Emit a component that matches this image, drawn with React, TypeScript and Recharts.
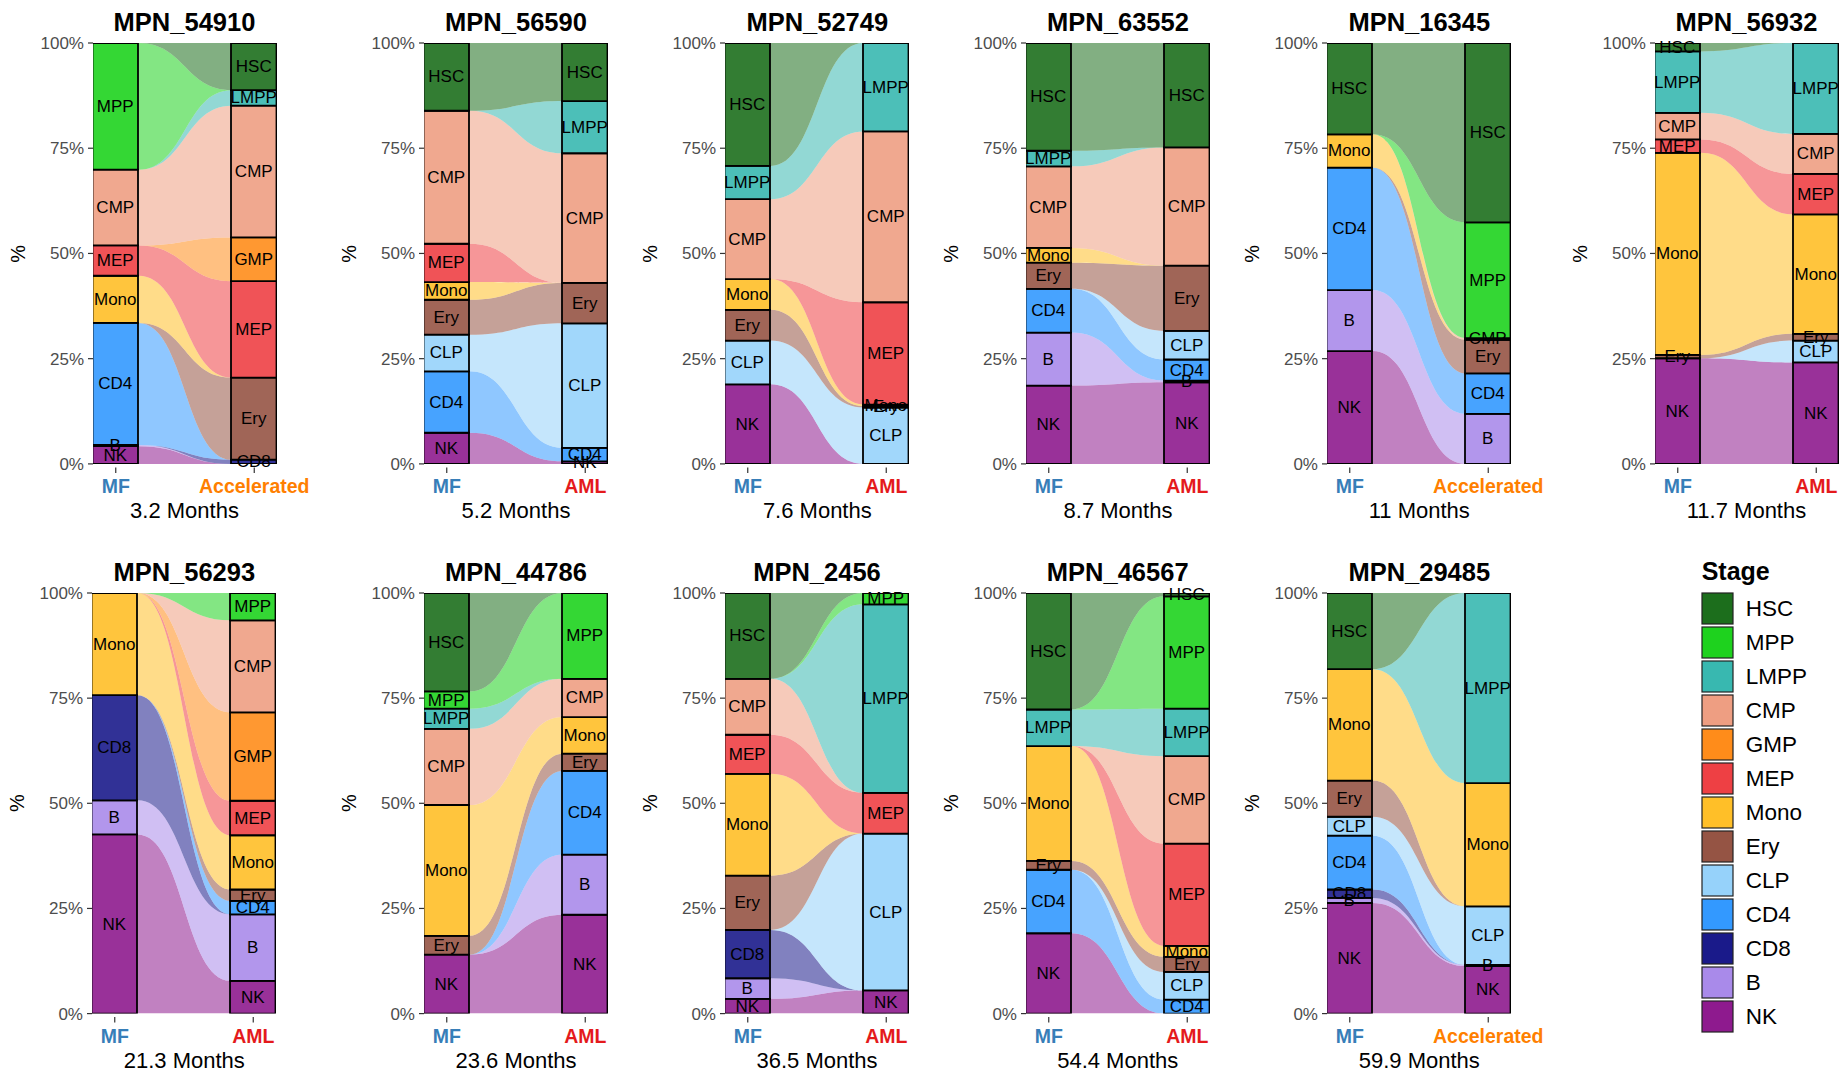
import React from "react";
import { Area, Bar, ComposedChart, LabelList, XAxis, YAxis } from "recharts";

const FONT = '"Liberation Sans", Arial, Helvetica, sans-serif';

const STAGES = ["HSC", "MPP", "LMPP", "CMP", "GMP", "MEP", "Mono", "Ery", "CLP", "CD4", "CD8", "B", "NK"];
const STAGE_COLORS = [
  "#1c6e1c", "#1ed21e", "#38b8b0", "#ee9e82", "#ff8c1a", "#ee4044", "#ffbf28",
  "#955444", "#96d2fa", "#3399ff", "#1a1a8a", "#a98aea", "#8e1a8e",
];

const TIMEPOINTS = [0, 1]; // 0 = MF sample, 1 = later sample
const Y_TICKS = [0, 25, 50, 75, 100];

// % of cells per stage, same order as STAGES
const mpn54910Mf = [0, 30.1, 0, 18.0, 0, 7.2, 11.2, 0, 0, 29.0, 0, 0.3, 4.2];
const mpn54910Late = [11.2, 0, 3.7, 31.3, 10.4, 22.9, 0, 19.5, 0, 0, 1.0, 0, 0];
const mpn56590Mf = [16.1, 0, 0, 31.6, 0, 9.1, 4.2, 8.3, 8.7, 14.6, 0, 0, 7.4];
const mpn56590Late = [13.8, 0, 12.4, 30.8, 0, 0, 0, 9.6, 29.6, 3.2, 0, 0, 0.6];
const mpn52749Mf = [29.2, 0, 7.9, 19.0, 0, 0, 7.3, 7.3, 10.4, 0, 0, 0, 18.9];
const mpn52749Late = [0, 0, 21.0, 40.6, 0, 24.3, 0.4, 0.3, 13.4, 0, 0, 0, 0];
const mpn63552Mf = [25.6, 0, 3.7, 19.4, 0, 0, 3.5, 6.2, 0, 10.4, 0, 12.6, 18.6];
const mpn63552Late = [24.8, 0, 0, 28.1, 0, 0, 0, 15.5, 6.8, 5.0, 0, 0.4, 19.4];
const mpn16345Mf = [21.7, 0, 0, 0, 0, 0, 7.9, 0, 0, 29.1, 0, 14.5, 26.8];
const mpn16345Late = [42.6, 27.5, 0, 0.4, 0, 0, 0, 8.0, 0, 9.6, 0, 11.9, 0];
const mpn56932Mf = [2.0, 0, 14.6, 6.3, 0, 3.2, 48.0, 0.8, 0, 0, 0, 0, 25.1];
const mpn56932Late = [0, 0, 21.6, 9.5, 0, 9.6, 28.4, 1.6, 5.2, 0, 0, 0, 24.1];
const mpn56293Mf = [0, 0, 0, 0, 0, 0, 24.3, 0, 0, 0, 25.0, 8.1, 42.6];
const mpn56293Late = [0, 6.5, 0, 21.9, 21.0, 8.2, 12.9, 2.7, 0, 3.2, 0, 15.8, 7.8];
const mpn44786Mf = [23.4, 4.1, 4.8, 18.1, 0, 0, 31.1, 4.5, 0, 0, 0, 0, 14.0];
const mpn44786Late = [0, 20.4, 0, 9.1, 0, 0, 8.7, 4.1, 0, 19.9, 0, 14.3, 23.5];
const mpn2456Mf = [20.4, 0, 0, 13.3, 0, 9.3, 24.2, 12.9, 0, 0, 11.5, 4.9, 3.5];
const mpn2456Late = [0, 2.7, 44.8, 0, 0, 9.7, 0, 0, 37.3, 0, 0, 0, 5.5];
const mpn46567Mf = [27.7, 0, 8.7, 0, 0, 0, 27.3, 2.1, 0, 15.1, 0, 0, 19.1];
const mpn46567Late = [0.8, 26.7, 11.3, 20.8, 0, 24.3, 2.6, 3.6, 6.6, 3.3, 0, 0, 0];
const mpn29485Mf = [18.1, 0, 0, 0, 0, 0, 26.5, 8.6, 4.5, 12.8, 2.0, 1.2, 26.3];
const mpn29485Late = [0, 0, 45.2, 0, 0, 0, 29.3, 0, 13.9, 0, 0, 0.3, 11.3];

const PANELS = [
  { title: "MPN_54910", months: "3.2 Months", late: "Accelerated", mf: mpn54910Mf, end: mpn54910Late },
  { title: "MPN_56590", months: "5.2 Months", late: "AML", mf: mpn56590Mf, end: mpn56590Late },
  { title: "MPN_52749", months: "7.6 Months", late: "AML", mf: mpn52749Mf, end: mpn52749Late },
  { title: "MPN_63552", months: "8.7 Months", late: "AML", mf: mpn63552Mf, end: mpn63552Late },
  { title: "MPN_16345", months: "11 Months", late: "Accelerated", mf: mpn16345Mf, end: mpn16345Late },
  { title: "MPN_56932", months: "11.7 Months", late: "AML", mf: mpn56932Mf, end: mpn56932Late },
  { title: "MPN_56293", months: "21.3 Months", late: "AML", mf: mpn56293Mf, end: mpn56293Late },
  { title: "MPN_44786", months: "23.6 Months", late: "AML", mf: mpn44786Mf, end: mpn44786Late },
  { title: "MPN_2456", months: "36.5 Months", late: "AML", mf: mpn2456Mf, end: mpn2456Late },
  { title: "MPN_46567", months: "54.4 Months", late: "AML", mf: mpn46567Mf, end: mpn46567Late },
  { title: "MPN_29485", months: "59.9 Months", late: "Accelerated", mf: mpn29485Mf, end: mpn29485Late },
];

// layout
const PANEL_LEFT = [92.5, 424, 725.3, 1026, 1327.3, 1654.5, 92.3, 424, 725, 1025.7, 1327.3];
const ROWS = [
  { top: 43.3, h: 420.9, title: 12.2, tick: 29, months: 53.5 },
  { top: 592.7, h: 420.6, title: 12, tick: 29.8, months: 54.5 },
];
const BAR_W = 45.5;
const BAR_GAP = 138.5;
const PLOT_W = BAR_W + BAR_GAP;
const Y_W = 60;
const M_T = 20;
const M_R = 70;
const X_H = 60;

const MF_COLOR = "#377eb8";
const AML_COLOR = "#e41a1c";
const ACC_COLOR = "#ff7f00";

function tint(hex: string, a: number) {
  const n = parseInt(hex.slice(1), 16);
  const m = (c: number) => Math.round(c * a + 255 * (1 - a));
  return `rgb(${m((n >> 16) & 255)},${m((n >> 8) & 255)},${m(n & 255)})`;
}

// alluvial ribbon: flat over the bars, then an s-curve between them
function flowCurve(context: any) {
  let pts: number[][] = [];
  let line = NaN;
  const inset = BAR_W / 2;
  return {
    areaStart() { line = 0; },
    areaEnd() { line = NaN; },
    lineStart() { pts = []; },
    lineEnd() {
      pts.forEach(([x, y], i) => {
        if (i === 0) {
          if (line) context.lineTo(x, y);
          else context.moveTo(x, y);
          return;
        }
        const [px, py] = pts[i - 1];
        const d = Math.sign(x - px) * inset;
        const xs = px + d;
        const xe = x - d;
        const xm = (xs + xe) / 2;
        context.lineTo(xs, py);
        context.bezierCurveTo(xm, py, xm, y, xe, y);
        context.lineTo(x, y);
      });
      if (line) context.closePath();
      line = 1 - line;
    },
    point(x: number, y: number) { pts.push([+x, +y]); },
  };
}

const segLabel = (name: string) => (props: any) => {
  const vb = props.viewBox && props.viewBox.height !== undefined ? props.viewBox : props;
  const { x, y, width, height } = vb;
  if (!height || Math.abs(height) < 0.05) return null;
  return (
    <text x={x + width / 2} y={y + height / 2} textAnchor="middle" dominantBaseline="central"
      fontSize={17} fontFamily={FONT} fill="#000">
      {name}
    </text>
  );
};

function makeXTick(late: string, plotBottom: number, dy: number) {
  return (props: any) => {
    const { x, payload } = props;
    const isMf = payload.value === 0;
    const color = isMf ? MF_COLOR : late === "AML" ? AML_COLOR : ACC_COLOR;
    return (
      <g>
        <line x1={x} x2={x} y1={plotBottom + 3.5} y2={plotBottom + 9} stroke="#333" strokeWidth={1.2} />
        <text x={x} y={plotBottom + dy} textAnchor="middle" fontSize={19.5} fontWeight="bold" fontFamily={FONT} fill={color}>
          {isMf ? "MF" : late}
        </text>
      </g>
    );
  };
}

function Panel({ idx }: { idx: number }) {
  const p = PANELS[idx];
  const row = ROWS[idx < 6 ? 0 : 1];
  const left = PANEL_LEFT[idx];
  const data = TIMEPOINTS.map((t, i) => {
    const vals = i === 0 ? p.mf : p.end;
    const d: any = { t };
    STAGES.forEach((s, k) => (d[s] = vals[k]));
    return d;
  });
  const order = STAGES.map((_, k) => k).reverse();
  const half = BAR_W / 2 / BAR_GAP;
  return (
    <div style={{ position: "absolute", left: left - Y_W, top: row.top - M_T }}>
      <ComposedChart width={Y_W + PLOT_W + M_R} height={M_T + row.h + X_H} data={data}
        margin={{ top: M_T, right: M_R, bottom: 0, left: 0 }}>
        <XAxis dataKey="t" type="number" domain={[-half, 1 + half]} ticks={TIMEPOINTS} allowDataOverflow
          tickLine={false} axisLine={false} height={X_H} interval={0}
          tick={makeXTick(p.late, M_T + row.h, row.tick)} />
        <YAxis domain={[0, 100]} ticks={Y_TICKS} allowDataOverflow width={Y_W} axisLine={false}
          tickFormatter={(v: number) => `${v}%`} tickSize={5} tickMargin={4}
          tickLine={{ stroke: "#333", strokeWidth: 1.2 }}
          tick={{ fill: "#4d4d4d", fontSize: 17, fontFamily: FONT }} />
        {order.map((k) => (
          <Area key={"f" + k} dataKey={STAGES[k]} stackId="flow" type={flowCurve as any}
            fill={STAGE_COLORS[k]} fillOpacity={0.55} stroke="none" isAnimationActive={false} />
        ))}
        {order.map((k) => (
          <Bar key={"b" + k} dataKey={STAGES[k]} stackId="bar" barSize={BAR_W}
            fill={tint(STAGE_COLORS[k], 0.9)} stroke="#000" strokeWidth={1.8} isAnimationActive={false}>
            <LabelList dataKey={STAGES[k]} content={segLabel(STAGES[k])} />
          </Bar>
        ))}
      </ComposedChart>
    </div>
  );
}

export default function App() {
  return (
    <div style={{ position: "absolute", left: 0, top: 0, width: 1839, height: 1073, overflow: "hidden", background: "#fff" }}>
      <style>{`.recharts-surface{overflow:visible}`}</style>
      {PANELS.map((_, i) => <Panel key={i} idx={i} />)}
      <svg width={1839} height={1073} style={{ position: "absolute", left: 0, top: 0, pointerEvents: "none" }}>
        {PANELS.map((p, i) => {
          const row = ROWS[i < 6 ? 0 : 1];
          const cx = PANEL_LEFT[i] + PLOT_W / 2;
          const bottom = row.top + row.h;
          const lx = PANEL_LEFT[i] - 75;
          const ly = row.top + row.h / 2;
          return (
            <g key={i} fontFamily={FONT}>
              <text x={cx} y={row.top - row.title} textAnchor="middle" fontSize={25.5} fontWeight="bold" fill="#000">{p.title}</text>
              <text x={cx} y={bottom + row.months} textAnchor="middle" fontSize={22} fill="#000">{p.months}</text>
              <text x={lx} y={ly} textAnchor="middle" dominantBaseline="central"
                fontSize={20} fill="#000" transform={`rotate(-90 ${lx} ${ly})`}>%</text>
            </g>
          );
        })}
        <g fontFamily={FONT}>
          <text x={1701.7} y={579.5} fontSize={25} fontWeight="bold" fill="#000">Stage</text>
          {STAGES.map((s, k) => (
            <g key={s}>
              <rect x={1702} y={593 + k * 34} width={31} height={31} fill={STAGE_COLORS[k]} stroke="#222" strokeWidth={1.2} />
              <text x={1745.7} y={593 + k * 34 + 15.5} dominantBaseline="central" fontSize={22.5} fill="#000">{s}</text>
            </g>
          ))}
        </g>
      </svg>
    </div>
  );
}
